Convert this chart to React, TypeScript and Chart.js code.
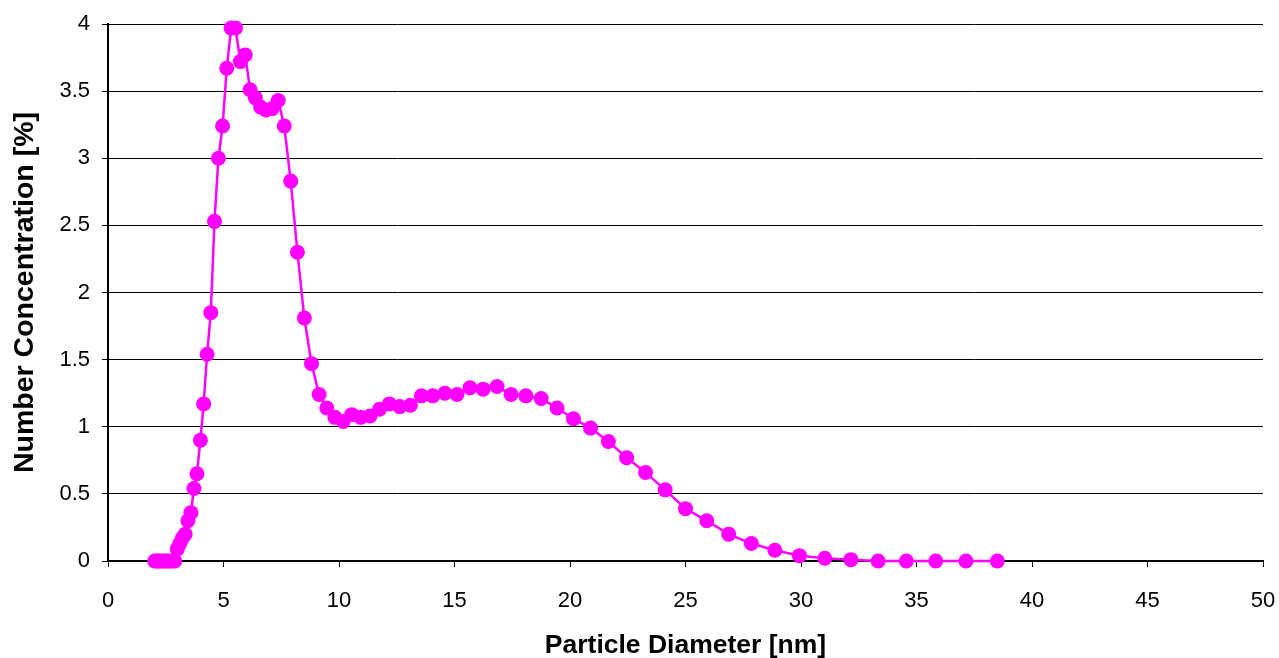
import React, { useEffect, useRef } from "react";
import { Chart, registerables } from "chart.js";

Chart.register(...registerables);

const diameters: number[] = [
  2.02, 2.09, 2.17, 2.25, 2.33, 2.42, 2.5, 2.6, 2.69, 2.79, 2.89,
  3.0, 3.11, 3.22, 3.34, 3.46, 3.59, 3.72, 3.85,
  4.0, 4.14, 4.29, 4.45, 4.61, 4.78, 4.96,
  5.14, 5.33, 5.52, 5.73, 5.94,
  6.15, 6.38, 6.61, 6.85,
  7.11, 7.37, 7.63, 7.91,
  8.2, 8.5, 8.81,
  9.14, 9.47, 9.82,
  10.18, 10.55, 10.94,
  11.34, 11.75,
  12.18, 12.63,
  13.09, 13.57,
  14.06, 14.58,
  15.11, 15.67,
  16.24, 16.84,
  17.45,
  18.09, 18.75,
  19.44,
  20.15, 20.89,
  21.66, 22.45, 23.27, 24.12, 25.0, 25.92, 26.87, 27.85, 28.87, 29.93,
  31.03, 32.16, 33.34, 34.56, 35.83, 37.14, 38.5,
];

const concentrations: number[] = [
  0, 0, 0, 0, 0, 0, 0, 0, 0, 0, 0,
  0.09, 0.13, 0.17, 0.2, 0.3, 0.36, 0.54, 0.65,
  0.9, 1.17, 1.54, 1.85, 2.53, 3.0, 3.24,
  3.67, 3.97, 3.97, 3.72, 3.77,
  3.51, 3.45, 3.38, 3.36,
  3.37, 3.43, 3.24, 2.83,
  2.3, 1.81, 1.47,
  1.24, 1.14, 1.07,
  1.04, 1.09, 1.07,
  1.08, 1.13,
  1.17, 1.15,
  1.16, 1.23,
  1.23, 1.25,
  1.24, 1.29,
  1.28, 1.3,
  1.24,
  1.23, 1.21,
  1.14,
  1.06, 0.99,
  0.89, 0.77, 0.66, 0.53, 0.39, 0.3, 0.2, 0.13, 0.08, 0.04,
  0.02, 0.01, 0, 0, 0, 0, 0,
];

const xTitle = "Particle Diameter [nm]";
const yTitle = "Number Concentration [%]";

const FONT = "'Liberation Sans', Arial, sans-serif";

export default function App() {
  const canvasRef = useRef<HTMLCanvasElement | null>(null);

  useEffect(() => {
    const canvas = canvasRef.current;
    if (!canvas) return;
    const points = diameters.map((d, i) => ({ x: d, y: concentrations[i] }));
    const chart = new Chart(canvas, {
      type: "line",
      data: {
        datasets: [
          {
            label: "Number Concentration",
            data: points,
            borderColor: "#FF00FF",
            backgroundColor: "#FF00FF",
            borderWidth: 2.5,
            pointRadius: 7.5,
            pointHoverRadius: 7.5,
            pointBackgroundColor: "#FF00FF",
            pointBorderColor: "#FF00FF",
            pointBorderWidth: 0,
            tension: 0,
            fill: false,
            clip: false,
          } as any,
        ],
      },
      options: {
        animation: false,
        responsive: false,
        devicePixelRatio: 1,
        layout: { padding: { top: 24, right: 16, left: 0, bottom: 0 } },
        plugins: {
          legend: { display: false },
          tooltip: { enabled: false },
        },
        scales: {
          x: {
            type: "linear",
            min: 0,
            max: 50,
            afterFit: (scale: any) => {
              scale.height = 97;
              scale.paddingLeft = 0;
              scale.paddingRight = 0;
            },
            ticks: {
              stepSize: 5,
              color: "#000",
              padding: 21,
              font: { family: FONT, size: 22 },
              callback: (v: any) => String(v),
            },
            grid: {
              drawOnChartArea: false,
              drawTicks: true,
              tickLength: 6,
              color: "#000",
            },
            border: { display: true, color: "#000", width: 2 },
            title: {
              display: true,
              text: xTitle,
              color: "#000",
              padding: { top: 0, bottom: -4 },
              font: { family: FONT, size: 26.5, weight: "bold" },
            },
          },
          y: {
            type: "linear",
            min: 0,
            max: 4,
            afterFit: (scale: any) => {
              scale.width = 108;
              scale.paddingTop = 0;
              scale.paddingBottom = 0;
            },
            ticks: {
              stepSize: 0.5,
              color: "#000",
              padding: 12,
              font: { family: FONT, size: 22 },
              callback: (v: any) => String(v),
            },
            grid: {
              drawOnChartArea: true,
              drawTicks: true,
              tickLength: 6,
              color: "#000",
              lineWidth: 1,
            },
            border: { display: true, color: "#000", width: 2 },
            title: {
              display: true,
              text: yTitle,
              color: "#000",
              padding: { top: 8, bottom: 0 },
              font: { family: FONT, size: 28.5, weight: "bold" },
            },
          },
        },
      },
    });
    return () => chart.destroy();
  }, []);

  return (
    <div style={{ position: "fixed", left: 0, top: 0, width: 1279, height: 658, background: "#fff" }}>
      <canvas ref={canvasRef} width={1279} height={658} style={{ display: "block" }} />
    </div>
  );
}
